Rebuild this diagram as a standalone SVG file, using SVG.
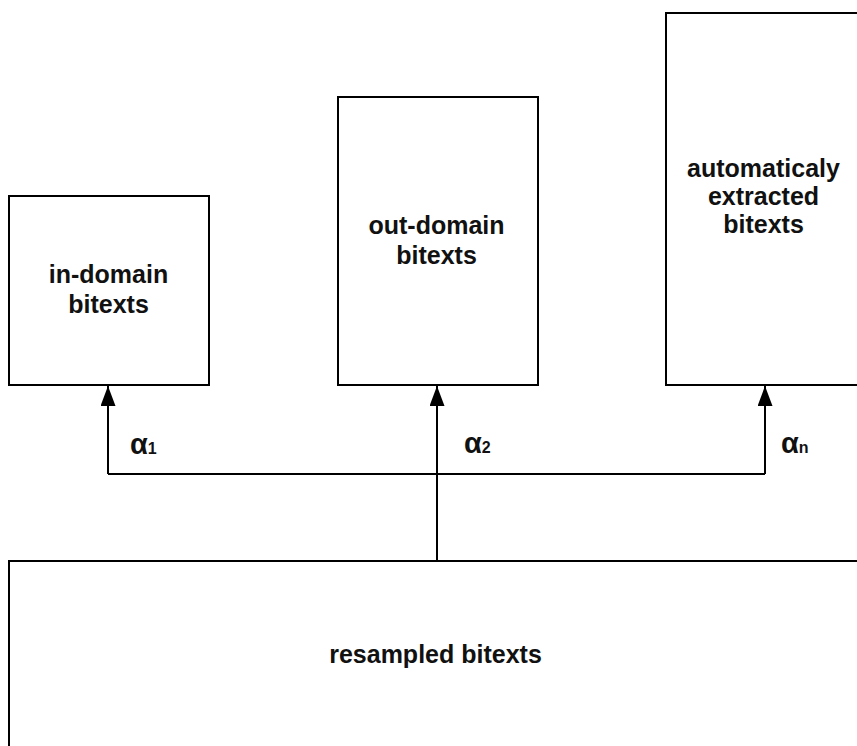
<svg xmlns="http://www.w3.org/2000/svg" width="857" height="746" viewBox="0 0 857 746">
<defs>
<style>
.box{fill:#fff;stroke:#000;stroke-width:2}
.lbl{font-family:"Liberation Sans",Arial,Helvetica,sans-serif;font-weight:bold;font-size:25px;text-anchor:middle;fill:#111}
.alpha{font-family:"Liberation Sans",Arial,Helvetica,sans-serif;font-weight:bold;fill:#111}
.big{font-size:29px}
.sub{font-size:16px}
.conn{fill:none;stroke:#000;stroke-width:2}
</style>
<marker id="arrow" markerUnits="userSpaceOnUse" markerWidth="20" markerHeight="15" refX="20" refY="7.5" orient="auto" viewBox="0 0 20 15">
<path d="M0,0 L20,7.5 L0,15 Z" fill="#000"/>
</marker>
</defs>
<rect width="857" height="746" fill="#fff"/>
<g id="in-domain">
<rect class="box" x="9" y="196" width="200" height="189"/>
<text class="lbl" x="108.5" y="283">in-domain</text>
<text class="lbl" x="108.5" y="313">bitexts</text>
</g>
<g id="out-domain">
<rect class="box" x="338" y="97" width="200" height="288"/>
<text class="lbl" x="436.5" y="234">out-domain</text>
<text class="lbl" x="436.5" y="264">bitexts</text>
</g>
<g id="auto-extracted">
<rect class="box" x="666" y="13" width="200" height="372"/>
<text class="lbl" x="763.5" y="177">automaticaly</text>
<text class="lbl" x="763.5" y="205">extracted</text>
<text class="lbl" x="763.5" y="233">bitexts</text>
</g>
<g id="resampled">
<rect class="box" x="9" y="561" width="860" height="200"/>
<text class="lbl" x="435.5" y="663">resampled bitexts</text>
</g>
<g id="connectors">
<path class="conn" d="M108,474 H765"/>
<path class="conn" d="M108,474 V386" marker-end="url(#arrow)"/>
<path class="conn" d="M437,561 V386" marker-end="url(#arrow)"/>
<path class="conn" d="M765,474 V386" marker-end="url(#arrow)"/>
<text class="alpha" x="130" y="454"><tspan class="big">α</tspan><tspan class="sub">1</tspan></text>
<text class="alpha" x="464" y="453"><tspan class="big">α</tspan><tspan class="sub">2</tspan></text>
<text class="alpha" x="781" y="453"><tspan class="big">α</tspan><tspan class="sub">n</tspan></text>
</g>
</svg>
